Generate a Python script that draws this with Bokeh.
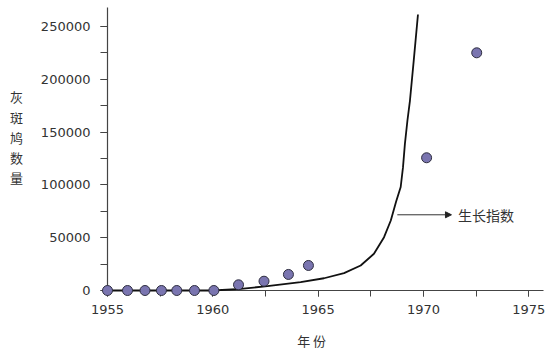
from bokeh.plotting import figure
from bokeh.models import (Range1d, SingleIntervalTicker, PrintfTickFormatter,
                          Arrow, NormalHead, Label)
from bokeh.embed import file_html
from bokeh.resources import INLINE

obs_years = [1955.0, 1955.95, 1956.78, 1957.56, 1958.29, 1959.13, 1960.05,
             1961.22, 1962.43, 1963.59, 1964.54, 1970.15, 1972.53]
obs_counts = [0, 0, 0, 0, 0, 0, 0, 5400, 8800, 15200, 23700, 125700, 225100]

# Exponential-growth curve
curve_years = [1955.0, 1960.0, 1961.33, 1962.59, 1964.17, 1965.28, 1966.23,
               1967.02, 1967.65, 1968.13, 1968.45, 1968.7, 1968.92, 1969.03,
               1969.12, 1969.24, 1969.36, 1969.54, 1969.74]
curve_counts = [0, 0, 1600, 4100, 8000, 11600, 16400, 23700, 34800, 50500,
                66300, 84000, 98000, 116800, 138900, 161000, 179900, 218000,
                261400]

y_title = "灰\n斑\n鸠\n数\n量"
x_title = "年 份"
curve_label = "生长指数"

AX = "#444444"
TXT = "#333333"
CJK = "Noto Sans CJK SC"

p = figure(width=558, height=353, output_backend="svg", toolbar_location=None,
           x_range=Range1d(1955, 1975.7), y_range=Range1d(0, 268000),
           min_border_left=107, min_border_right=15, min_border_top=7,
           min_border_bottom=63)
p.outline_line_color = None
p.grid.visible = False

p.xaxis.ticker = SingleIntervalTicker(interval=5, num_minor_ticks=2)
p.yaxis.ticker = SingleIntervalTicker(interval=50000, num_minor_ticks=2)
p.xaxis.formatter = PrintfTickFormatter(format="%d")
p.yaxis.formatter = PrintfTickFormatter(format="%d")
for ax in (p.xaxis, p.yaxis):
    ax.axis_line_color = AX
    ax.axis_line_width = 1.2
    ax.major_tick_line_color = AX
    ax.minor_tick_line_color = AX
    ax.major_tick_in = 0
    ax.minor_tick_in = 0
    ax.major_label_text_font = "DejaVu Sans"
    ax.major_label_text_font_size = "13px"
    ax.major_label_text_color = TXT
p.xaxis.major_tick_out = 6
p.xaxis.minor_tick_out = 6
p.xaxis.major_label_standoff = 8
p.yaxis.major_tick_out = 7
p.yaxis.minor_tick_out = 7
p.yaxis.major_label_standoff = 10

p.line(curve_years, curve_counts, line_color="#111111", line_width=1.8,
       level="overlay")
p.scatter(obs_years, obs_counts, size=10, fill_color="#7a75b0",
          line_color="#2e2e40", line_width=1, level="overlay")

p.add_layout(Arrow(end=NormalHead(size=6, fill_color="#222222", line_color="#222222"),
                   x_start=1968.76, y_start=71700, x_end=1971.33, y_end=71700,
                   line_color="#333333", line_width=1))
p.add_layout(Label(x=1971.64, y=71700, text=curve_label, text_font=CJK,
                   text_font_size="14px", text_color=TXT, text_baseline="middle"))

p.add_layout(Label(x=1950.68, y=145200, text=y_title, text_font=CJK,
                   text_font_size="13px", text_color=TXT, text_align="center",
                   text_baseline="middle", text_line_height=1.06), "left")
p.add_layout(Label(x=1964.69, y=-47350, text=x_title, text_font=CJK,
                   text_font_size="13px", text_color=TXT, text_align="center",
                   text_baseline="middle"), "below")

open("out.html", "w").write(file_html(p, INLINE))
